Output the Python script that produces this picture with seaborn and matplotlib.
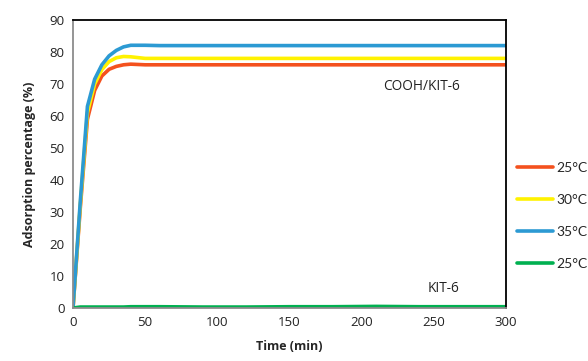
import matplotlib
matplotlib.use("Agg")
import matplotlib.pyplot as plt
import seaborn as sns
import pandas as pd

time_min = [0, 5, 10, 15, 20, 25, 30, 35, 40, 50, 60, 90, 120, 150, 180, 210, 240, 270, 300]
cooh_25 = [0, 31, 59, 68, 72.5, 74.6, 75.5, 76.0, 76.2, 76.0, 76, 76, 76, 76, 76, 76, 76, 76, 76]
cooh_30 = [0, 32, 61, 70, 74.5, 77.0, 78.2, 78.6, 78.5, 78.0, 78, 78, 78, 78, 78, 78, 78, 78, 78]
cooh_35 = [0, 33, 63, 71.5, 76, 78.8, 80.5, 81.6, 82.1, 82.1, 82, 82, 82, 82, 82, 82, 82, 82, 82]
kit6_25 = [0, 0.3, 0.3, 0.3, 0.3, 0.3, 0.3, 0.3, 0.4, 0.4, 0.4, 0.3, 0.3, 0.4, 0.4, 0.5, 0.4, 0.4, 0.4]

series_labels = ["25°C", "30°C", "35°C", "25°C"]
series_values = [cooh_25, cooh_30, cooh_35, kit6_25]
series_colors = ["#F4511E", "#FFF200", "#2C9AD3", "#00B050"]

x_ticks = [0, 50, 100, 150, 200, 250, 300]
y_ticks = [0, 10, 20, 30, 40, 50, 60, 70, 80, 90]

sns.set_style("white")
plt.rcParams["font.family"] = ["Open Sans", "DejaVu Sans"]

fig = plt.figure(figsize=(5.88, 3.61), dpi=100)
ax = fig.add_axes([73 / 588, 1 - 308 / 361, (506 - 73) / 588, (308 - 20) / 361])

for lab, vals, col in zip(series_labels, series_values, series_colors):
    df = pd.DataFrame({"t": time_min, "v": vals})
    sns.lineplot(data=df, x="t", y="v", ax=ax, color=col, linewidth=2.6, label=lab)

ax.set_xlim(0, 300)
ax.set_ylim(0, 90)
ax.set_xticks(x_ticks)
ax.set_yticks(y_ticks)
ax.tick_params(axis="both", length=0, labelsize=9.5, colors="#222222", pad=6)
ax.set_xlabel("Time (min)", fontsize=9, fontweight="bold", labelpad=8)
ax.set_ylabel("Adsorption percentage (%)", fontsize=9, fontweight="bold", labelpad=10)

for s in ["left", "bottom"]:
    ax.spines[s].set_color("#8C8C8C")
    ax.spines[s].set_linewidth(1.3)
for s in ["top", "right"]:
    ax.spines[s].set_color("black")
    ax.spines[s].set_linewidth(1.3)

ax.text(215, 69.2, "COOH/KIT-6", fontsize=9.8, color="#222222", va="center", ha="left")
ax.text(246, 6.2, "KIT-6", fontsize=9.8, color="#222222", va="center", ha="left")

ax.legend(loc="center left", bbox_to_anchor=(517 / 588, 1 - 216 / 361),
          bbox_transform=fig.transFigure, frameon=False, borderpad=0, borderaxespad=0,
          prop={"family": "Lato", "size": 10},
          handlelength=2.6, handletextpad=0.2, labelspacing=1.45)

fig.savefig("out.png", dpi=100)
